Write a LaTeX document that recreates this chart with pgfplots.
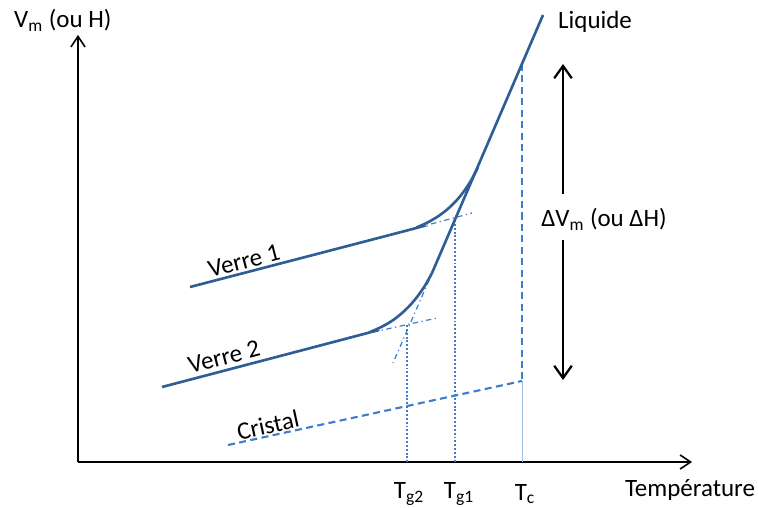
\documentclass[border=0pt]{standalone}
\usepackage{fontspec}
\setmainfont{Carlito}
\usepackage{pgfplots}
\pgfplotsset{compat=1.18}
\usetikzlibrary{arrows.meta}
\definecolor{curve}{HTML}{2E5E94}
\definecolor{dashc}{HTML}{3D7DC9}

\begin{document}
\begin{tikzpicture}[font=\fontsize{14.2}{17}\selectfont]
\begin{axis}[
    name=ax,
    width=15.18cm, height=10.16cm,
    scale only axis, hide axis,
    xmin=0, xmax=759, ymin=0, ymax=508,
    y dir=reverse, clip=false,
]
% axes
\addplot[black, line width=0.9pt, -{Straight Barb[length=6pt,width=8pt]}] coordinates {(78,462)(692,462)};
\addplot[black, line width=0.9pt, -{Straight Barb[length=6pt,width=8pt]}] coordinates {(78,462)(78,35)};

% crystal and reference lines
\addplot[dashc, line width=1.2pt, dash pattern=on 4pt off 2.5pt] coordinates {(228,445)(522,381)};
\addplot[dashc, line width=1.2pt, dash pattern=on 4pt off 2.5pt] coordinates {(522,64)(522,381)};
\addplot[dashc!50, line width=0.5pt] coordinates {(522,381)(522,462)};
\addplot[dashc, line width=1.2pt, dash pattern=on 1.1pt off 1.1pt] coordinates {(455,220)(455,462)};
\addplot[dashc, line width=1.2pt, dash pattern=on 1.1pt off 1.1pt] coordinates {(407,325)(407,462)};

% tangent extensions
\addplot[dashc, line width=0.7pt, dash dot] coordinates {(405,231)(472,213)};
\addplot[dashc, line width=0.7pt, dash dot] coordinates {(360,335)(437,318)};
\addplot[dashc, line width=0.7pt, dash dot] coordinates {(440,255)(393,363)};

% liquid
\addplot[curve, line width=1.5pt] coordinates {(543,15)(432,273)};
% verre 1
\addplot[curve, line width=1.5pt, smooth] coordinates {
  (190,287)(405,231)(417.1,227.2)(428.3,222.1)(438.7,215.9)(448.3,208.5)
  (457.0,199.9)(464.8,190.1)(471.8,179.2)(478,167)};
% verre 2
\addplot[curve, line width=1.5pt, smooth] coordinates {
  (162,387)(360,335)(371.4,331.4)(382.1,326.6)(392.2,320.7)(401.5,313.5)
  (410.2,305.1)(418.1,295.6)(425.4,284.9)(432,273)};

% delta arrow
\addplot[black, line width=1.3pt, -{Straight Barb[length=7pt,width=10pt]}] coordinates {(563,194)(563,64)};
\addplot[black, line width=1.3pt, -{Straight Barb[length=7pt,width=10pt]}] coordinates {(563,240)(563,380)};

% labels
\node[anchor=west] at (axis cs:8,20) {V\textsubscript{m} (ou H)};
\node[anchor=west] at (axis cs:552,22) {Liquide};
\node at (axis cs:604,219) {ΔV\textsubscript{m} (ou ΔH)};
\node[rotate=14.6] at (axis cs:244,261) {Verre 1};
\node[rotate=14.6] at (axis cs:224,357) {Verre 2};
\node[rotate=12.3] at (axis cs:268,425) {Cristal};
\node at (axis cs:409,494) {T\textsubscript{g2}};
\node at (axis cs:459,494) {T\textsubscript{g1}};
\node at (axis cs:525,494) {T\textsubscript{c}};
\node at (axis cs:690,490) {Température};
\end{axis}
\pgfresetboundingbox
\path[use as bounding box] (ax.south west) rectangle (ax.north east);
\end{tikzpicture}
\end{document}
